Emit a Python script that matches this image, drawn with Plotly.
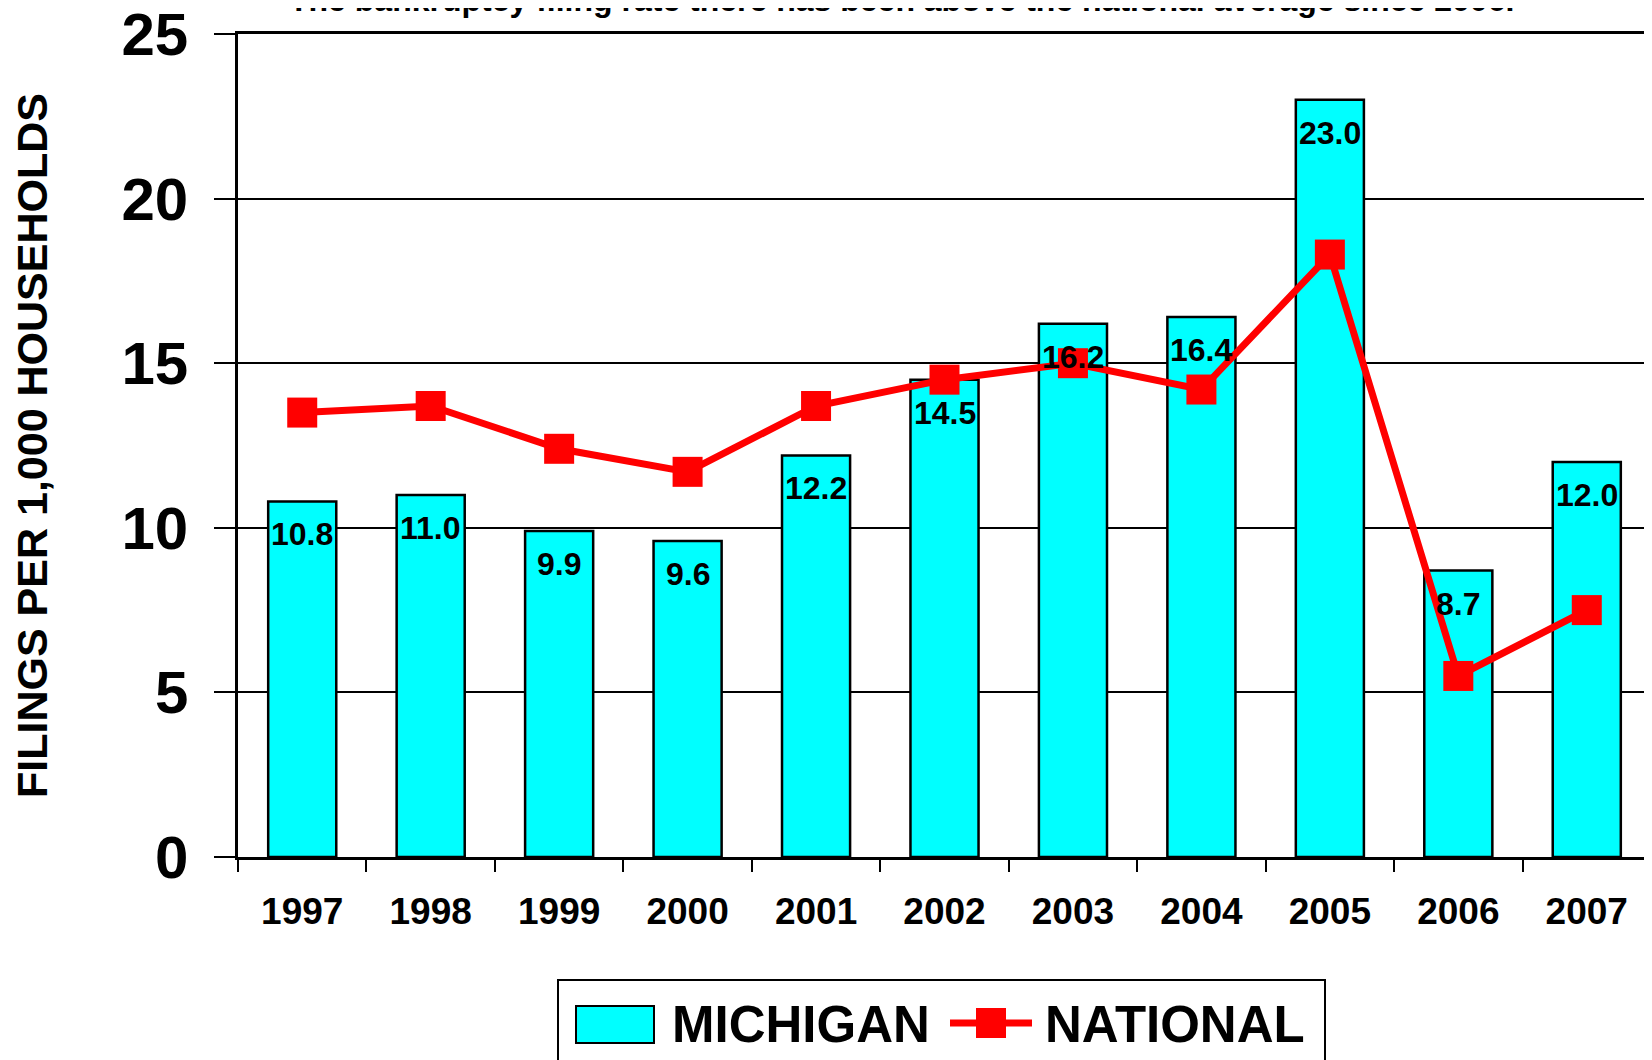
import plotly.graph_objects as go

years = ["1997", "1998", "1999", "2000", "2001", "2002", "2003", "2004", "2005", "2006", "2007"]
michigan = [10.8, 11.0, 9.9, 9.6, 12.2, 14.5, 16.2, 16.4, 23.0, 8.7, 12.0]
national = [13.5, 13.7, 12.4, 11.7, 13.7, 14.5, 15.0, 14.2, 18.3, 5.5, 7.5]
y_ticks = [0, 5, 10, 15, 20, 25]

# page body has an 8px margin; figure sized to fill the rest of the 1652x1060 window
OFF = 8
W, H = 1652 - OFF, 1060 - OFF
# plot area in screen pixels: left 238, right 1651, top 34, bottom 857
ML, MR, MT, MB = 238 - OFF, W - (1651 - OFF), 34 - OFF, H - (857 - OFF)
PW, PH = W - ML - MR, H - MT - MB

FONT = "Liberation Sans, Arial, sans-serif"


def px(x):
    """screen x -> paper x"""
    return (x - OFF - ML) / PW


def py(y):
    """screen y -> paper y"""
    return (H - MB - (y - OFF)) / PH


fig = go.Figure()
fig.add_trace(go.Bar(
    x=years, y=michigan, name="MICHIGAN", width=0.53,
    marker=dict(color="#00FFFF", line=dict(color="black", width=2.5)),
    showlegend=False,
))
fig.add_trace(go.Scatter(
    x=years, y=national, name="NATIONAL", mode="lines+markers",
    line=dict(color="#FF0000", width=7),
    marker=dict(symbol="square", size=30, color="#FF0000"),
    showlegend=False,
))

annotations = []
for i, v in enumerate(michigan):
    annotations.append(dict(
        x=i, y=v, xref="x", yref="y", text=f"{v:.1f}", showarrow=False,
        yanchor="top", yshift=-13,
        font=dict(family=FONT, size=32, color="black", weight="bold"),
    ))

annotations.append(dict(
    x=px(901), y=1, xref="paper", yref="paper", yanchor="bottom", yshift=14,
    text="The bankruptcy filing rate there has been above the national average since 2006.",
    showarrow=False, font=dict(family=FONT, size=32, color="black", weight="bold"),
))

# legend (drawn in paper space)
annotations.append(dict(
    x=px(670), y=py(1024), xref="paper", yref="paper", xanchor="left", yanchor="middle",
    text="MICHIGAN", showarrow=False, font=dict(family=FONT, size=51, color="black", weight="bold"),
))
annotations.append(dict(
    x=px(1043), y=py(1024), xref="paper", yref="paper", xanchor="left", yanchor="middle",
    text="NATIONAL", showarrow=False, font=dict(family=FONT, size=51, color="black", weight="bold"),
))

shapes = [
    dict(type="rect", xref="paper", yref="paper", x0=px(558), x1=px(1325), y0=py(1080), y1=py(980),
         line=dict(color="black", width=2), fillcolor="white", layer="below"),
    dict(type="rect", xref="paper", yref="paper", x0=px(576), x1=px(654), y0=py(1043), y1=py(1006),
         line=dict(color="black", width=2), fillcolor="#00FFFF"),
    dict(type="line", xref="paper", yref="paper", x0=px(950), x1=px(1032), y0=py(1023), y1=py(1023),
         line=dict(color="#FF0000", width=7)),
    dict(type="rect", xref="paper", yref="paper", x0=px(976), x1=px(1006), y0=py(1038), y1=py(1008),
         line=dict(color="#FF0000", width=0), fillcolor="#FF0000"),
]

fig.update_layout(
    width=W, height=H,
    margin=dict(l=ML, r=MR, t=MT, b=MB, autoexpand=False),
    paper_bgcolor="white", plot_bgcolor="white",
    annotations=annotations, shapes=shapes,
)
fig.update_xaxes(
    type="category", range=[-0.5, 10.5],
    showline=True, linecolor="black", linewidth=3, mirror=True,
    ticks="outside", tickson="boundaries", ticklen=12, tickwidth=2, tickcolor="black",
    tickfont=dict(family=FONT, size=37, color="black", weight="bold"),
    ticklabelstandoff=20,
    showgrid=False,
)
fig.update_yaxes(
    range=[0, 25], tickvals=y_ticks,
    showline=True, linecolor="black", linewidth=2.5, mirror=True,
    ticks="outside", ticklen=21, tickwidth=2, tickcolor="black",
    tickfont=dict(family=FONT, size=60, color="black", weight="bold"),
    ticklabelstandoff=14, ticklabeloverflow="allow",
    showgrid=True, gridcolor="black", gridwidth=2, zeroline=False,
    title=dict(text="FILINGS PER 1,000 HOUSEHOLDS", standoff=74,
               font=dict(family=FONT, size=43, color="black", weight="bold")),
)

fig.write_html("out.html")
